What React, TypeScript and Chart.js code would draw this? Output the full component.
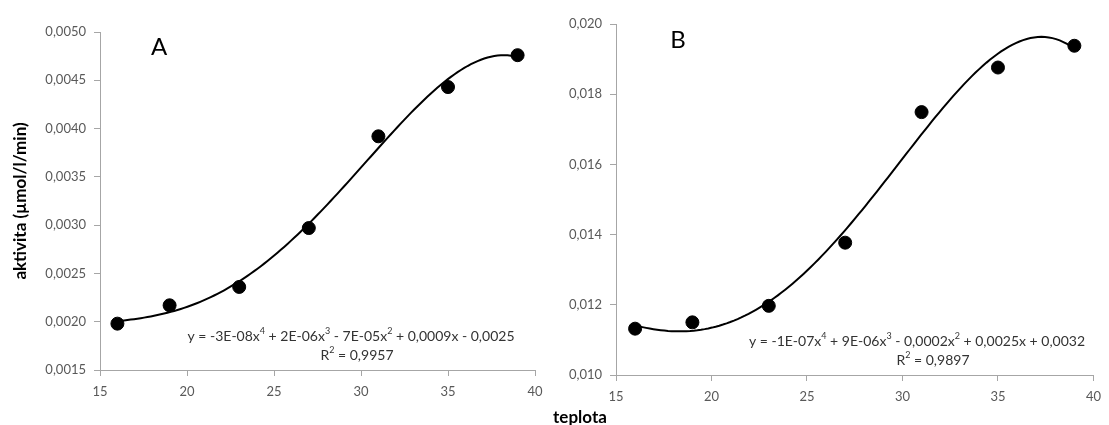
import { useEffect, useRef } from 'react';
import { Chart, registerables } from 'chart.js';

Chart.register(...registerables);

// ---- data ----
const temperatures = [16, 19, 23, 27, 31, 35, 39];
const activityA = [0.00198, 0.00217, 0.00236, 0.00297, 0.00392, 0.00443, 0.00476];
const activityB = [0.01132, 0.0115, 0.01197, 0.01377, 0.01749, 0.01876, 0.01938];
const xTickValues = [15, 20, 25, 30, 35, 40];
const yTicksA = [0.0015, 0.002, 0.0025, 0.003, 0.0035, 0.004, 0.0045, 0.005];
const yTicksB = [0.01, 0.012, 0.014, 0.016, 0.018, 0.02];
const equationA = [['y = -3E-08x'], ['4', 'sup'], [' + 2E-06x'], ['3', 'sup'], [' - 7E-05x'], ['2', 'sup'], [' + 0,0009x - 0,0025']];
const r2A = [['R'], ['2', 'sup'], [' = 0,9957']];
const equationB = [['y = -1E-07x'], ['4', 'sup'], [' + 9E-06x'], ['3', 'sup'], [' - 0,0002x'], ['2', 'sup'], [' + 0,0025x + 0,0032']];
const r2B = [['R'], ['2', 'sup'], [' = 0,9897']];

const FONT = "Lato, 'Open Sans', 'Liberation Sans', sans-serif";

// least-squares polynomial (degree 4) trendline, like the spreadsheet's trendline
function polyFit(xs: number[], ys: number[], deg: number) {
  const mx = xs.reduce((a, b) => a + b, 0) / xs.length;
  const sx = 12;
  const n = deg + 1;
  const A: number[][] = Array.from({ length: n }, () => new Array(n + 1).fill(0));
  xs.forEach((x, k) => {
    const u = (x - mx) / sx;
    for (let i = 0; i < n; i++) {
      for (let j = 0; j < n; j++) A[i][j] += Math.pow(u, i + j);
      A[i][n] += Math.pow(u, i) * ys[k];
    }
  });
  for (let c = 0; c < n; c++) {
    let p = c;
    for (let r = c + 1; r < n; r++) if (Math.abs(A[r][c]) > Math.abs(A[p][c])) p = r;
    [A[c], A[p]] = [A[p], A[c]];
    for (let r = 0; r < n; r++) {
      if (r === c) continue;
      const f = A[r][c] / A[c][c];
      for (let k = c; k <= n; k++) A[r][k] -= f * A[c][k];
    }
  }
  const coef = A.map((row, i) => row[n] / row[i]);
  return (x: number) => {
    const u = (x - mx) / sx;
    return coef.reduce((s, c, i) => s + c * Math.pow(u, i), 0);
  };
}

function trendPoints(ys: number[]) {
  const f = polyFit(temperatures, ys, 4);
  const pts: { x: number; y: number }[] = [];
  const x0 = temperatures[0];
  const x1 = temperatures[temperatures.length - 1];
  const steps = 120;
  for (let i = 0; i <= steps; i++) {
    const x = x0 + ((x1 - x0) * i) / steps;
    pts.push({ x, y: f(x) });
  }
  return pts;
}

function drawRich(ctx: CanvasRenderingContext2D, segs: string[][], cx: number, cy: number, size: number) {
  const main = `${size}px ${FONT}`;
  const sup = `${Math.round(size * 0.65)}px ${FONT}`;
  let total = 0;
  const widths = segs.map((s) => {
    ctx.font = s[1] === 'sup' ? sup : main;
    const w = ctx.measureText(s[0]).width;
    total += w;
    return w;
  });
  let x = cx - total / 2;
  ctx.textBaseline = 'middle';
  ctx.textAlign = 'left';
  segs.forEach((s, i) => {
    ctx.font = s[1] === 'sup' ? sup : main;
    ctx.fillText(s[0], x, s[1] === 'sup' ? cy - size * 0.35 : cy);
    x += widths[i];
  });
}

type PanelOpts = {
  values: number[];
  yTicks: number[];
  decimals: number;
  padTop: number;
  padRight: number;
  yWidth: number;
  xHeight: number;
  letter: string;
  letterPos: [number, number];
  eq: string[][];
  eqPos: [number, number];
  r2: string[][];
  r2Pos: [number, number];
  yTitle: boolean;
};

function makeChart(canvas: HTMLCanvasElement, o: PanelOpts) {
  const labelsPlugin = {
    id: 'panelText',
    afterDraw(chart: any) {
      const ctx = chart.ctx as CanvasRenderingContext2D;
      ctx.save();
      ctx.fillStyle = '#000';
      ctx.font = `24px ${FONT}`;
      ctx.textAlign = 'center';
      ctx.textBaseline = 'middle';
      ctx.fillText(o.letter, o.letterPos[0], o.letterPos[1]);
      ctx.fillStyle = '#333';
      drawRich(ctx, o.eq, o.eqPos[0], o.eqPos[1], 14);
      drawRich(ctx, o.r2, o.r2Pos[0], o.r2Pos[1], 14);
      ctx.restore();
    },
  };
  const fmt = (v: number) => v.toFixed(o.decimals).replace('.', ',');
  return new Chart(canvas, {
    type: 'scatter',
    data: {
      datasets: [
        {
          label: 'trend',
          data: trendPoints(o.values),
          showLine: true,
          borderColor: '#000',
          borderWidth: 2,
          pointRadius: 0,
          tension: 0,
          order: 2,
        },
        {
          label: 'aktivita',
          data: temperatures.map((t, i) => ({ x: t, y: o.values[i] })),
          backgroundColor: '#000',
          borderColor: '#000',
          pointRadius: 6.5,
          pointHoverRadius: 6.5,
          order: 1,
        },
      ],
    },
    options: {
      animation: false,
      responsive: false,
      maintainAspectRatio: false,
      layout: { padding: { top: o.padTop, right: o.padRight, left: 0, bottom: 0 } },
      plugins: { legend: { display: false }, tooltip: { enabled: false } },
      scales: {
        x: {
          type: 'linear',
          min: 15,
          max: 40,
          afterFit: (s: any) => {
            s.height = o.xHeight;
          },
          afterBuildTicks: (s: any) => {
            s.ticks = xTickValues.map((v) => ({ value: v }));
          },
          ticks: { color: '#595959', font: { family: FONT, size: 13 }, padding: 8 },
          grid: { drawOnChartArea: false, drawTicks: true, tickLength: 6, color: '#a6a6a6' },
          border: { color: '#a6a6a6', width: 1 },
        },
        y: {
          type: 'linear',
          min: o.yTicks[0],
          max: o.yTicks[o.yTicks.length - 1],
          afterFit: (s: any) => {
            s.width = o.yWidth;
          },
          afterBuildTicks: (s: any) => {
            s.ticks = o.yTicks.map((v) => ({ value: v }));
          },
          ticks: {
            color: '#595959',
            font: { family: FONT, size: 13 },
            padding: 8,
            callback: (v: any) => fmt(Number(v)),
          },
          title: {
            display: o.yTitle,
            text: 'aktivita (µmol/l/min)',
            color: '#000',
            font: { family: FONT, size: 17, weight: 'bold' },
            padding: { top: 10, bottom: 0 },
          },
          grid: { drawOnChartArea: false, drawTicks: true, tickLength: 6, color: '#a6a6a6' },
          border: { color: '#a6a6a6', width: 1 },
        },
      },
    },
    plugins: [labelsPlugin],
  } as any);
}

export default function App() {
  const refA = useRef<HTMLCanvasElement>(null);
  const refB = useRef<HTMLCanvasElement>(null);

  useEffect(() => {
    const a = makeChart(refA.current!, {
      values: activityA,
      yTicks: yTicksA,
      decimals: 4,
      padTop: 32,
      padRight: 21,
      yWidth: 100,
      xHeight: 55,
      letter: 'A',
      letterPos: [159, 47],
      eq: equationA,
      eqPos: [351, 336],
      r2: r2A,
      r2Pos: [357, 355],
      yTitle: true,
    });
    const b = makeChart(refB.current!, {
      values: activityB,
      yTicks: yTicksB,
      decimals: 3,
      padTop: 24,
      padRight: 9,
      yWidth: 60,
      xHeight: 50,
      letter: 'B',
      letterPos: [122, 40],
      eq: equationB,
      eqPos: [361, 341],
      r2: r2B,
      r2Pos: [377, 360],
      yTitle: false,
    });
    return () => {
      a.destroy();
      b.destroy();
    };
  }, []);

  return (
    <div style={{ position: 'absolute', left: 0, top: 0, width: 1109, height: 425, background: '#fff', overflow: 'hidden' }}>
      <canvas ref={refA} width={556} height={425} style={{ position: 'absolute', left: 0, top: 0, width: 556, height: 425 }} />
      <canvas ref={refB} width={553} height={425} style={{ position: 'absolute', left: 556, top: 0, width: 553, height: 425 }} />
      <div
        style={{
          position: 'absolute',
          left: 580,
          top: 416,
          transform: 'translate(-50%, -50%)',
          fontFamily: FONT,
          fontWeight: 'bold',
          fontSize: 17,
          color: '#000',
          whiteSpace: 'nowrap',
          lineHeight: 1,
        }}
      >
        teplota
      </div>
    </div>
  );
}
